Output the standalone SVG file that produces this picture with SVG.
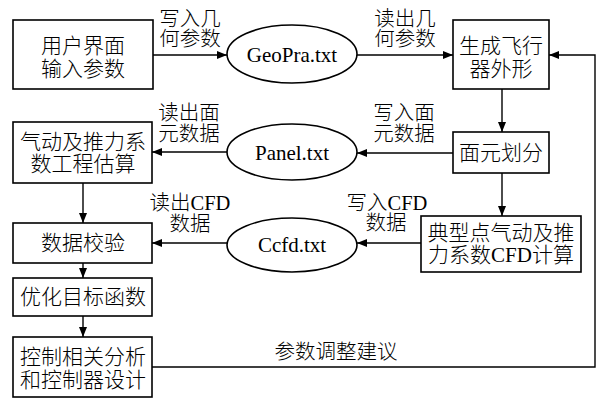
<svg xmlns="http://www.w3.org/2000/svg" width="603" height="399" viewBox="0 0 603 399">
<style>
rect, ellipse { fill: #fff; stroke: #000; stroke-width: 1.6; }
.c { fill: none; stroke: #000; stroke-width: 1.4; }
.a { marker-end: url(#ah); }
text { font-family: "Liberation Serif", "Noto Sans CJK SC", serif; font-weight: 300; fill: #000; text-anchor: middle; }
.n { font-size: 21px; }
.l { font-size: 20.5px; }
</style>
<defs>
<marker id="ah" viewBox="0 0 10 8" refX="10" refY="4" markerWidth="10" markerHeight="8" markerUnits="userSpaceOnUse" orient="auto">
<path d="M0,0 L10,4 L0,8 Z" fill="#000"/>
</marker>
</defs>
<g id="connectors">
<line class="c a" x1="153" y1="55" x2="227" y2="55"/>
<line class="c a" x1="357" y1="55" x2="453" y2="55"/>
<line class="c a" x1="502" y1="89" x2="502" y2="132"/>
<line class="c a" x1="453" y1="153" x2="357" y2="153"/>
<line class="c a" x1="227" y1="152" x2="152" y2="152"/>
<line class="c a" x1="502" y1="173" x2="502" y2="216"/>
<line class="c a" x1="421" y1="243" x2="357" y2="243"/>
<line class="c a" x1="227" y1="243" x2="152" y2="243"/>
<line class="c a" x1="83" y1="183" x2="83" y2="223"/>
<line class="c a" x1="83" y1="263" x2="83" y2="278"/>
<line class="c a" x1="83" y1="316" x2="83" y2="337"/>
<polyline class="c a" points="152,367 595,367 595,55 549,55"/>
<text class="l" x="190" y="26">写入几</text>
<text class="l" x="190" y="46">何参数</text>
<text class="l" x="405" y="26">读出几</text>
<text class="l" x="405" y="46">何参数</text>
<text class="l" x="189" y="120">读出面</text>
<text class="l" x="189" y="141">元数据</text>
<text class="l" x="404" y="120">写入面</text>
<text class="l" x="404" y="141">元数据</text>
<text class="l" x="190" y="210">读出CFD</text>
<text class="l" x="190" y="231">数据</text>
<text class="l" x="387" y="210">写入CFD</text>
<text class="l" x="386" y="230">数据</text>
<text class="l" x="336" y="359">参数调整建议</text>
</g>
<g id="n1"><rect x="13" y="20" width="140" height="69"/><text class="n" x="83" y="53">用户界面</text><text class="n" x="83" y="76">输入参数</text></g>
<g id="n2"><ellipse cx="292" cy="54" rx="65" ry="29"/><text class="n" x="292" y="62">GeoPra.txt</text></g>
<g id="n3"><rect x="453" y="20" width="96" height="69"/><text class="n" x="501" y="53">生成飞行</text><text class="n" x="501" y="76">器外形</text></g>
<g id="n4"><rect x="453" y="132" width="96" height="41"/><text class="n" x="501" y="160">面元划分</text></g>
<g id="n5"><ellipse cx="292" cy="152" rx="65" ry="28"/><text class="n" x="292" y="160">Panel.txt</text></g>
<g id="n6"><rect x="13" y="122" width="139" height="61"/><text class="n" x="83" y="149">气动及推力系</text><text class="n" x="83" y="171">数工程估算</text></g>
<g id="n7"><rect x="421" y="216" width="160" height="56"/><text class="n" x="501" y="240">典型点气动及推</text><text class="n" x="501" y="262">力系数CFD计算</text></g>
<g id="n8"><ellipse cx="292" cy="245" rx="65" ry="27"/><text class="n" x="292" y="252">Ccfd.txt</text></g>
<g id="n9"><rect x="13" y="223" width="139" height="40"/><text class="n" x="83" y="250">数据校验</text></g>
<g id="n10"><rect x="13" y="278" width="139" height="38"/><text class="n" x="83" y="304">优化目标函数</text></g>
<g id="n11"><rect x="13" y="337" width="139" height="60"/><text class="n" x="83" y="364">控制相关分析</text><text class="n" x="83" y="387">和控制器设计</text></g>
</svg>
